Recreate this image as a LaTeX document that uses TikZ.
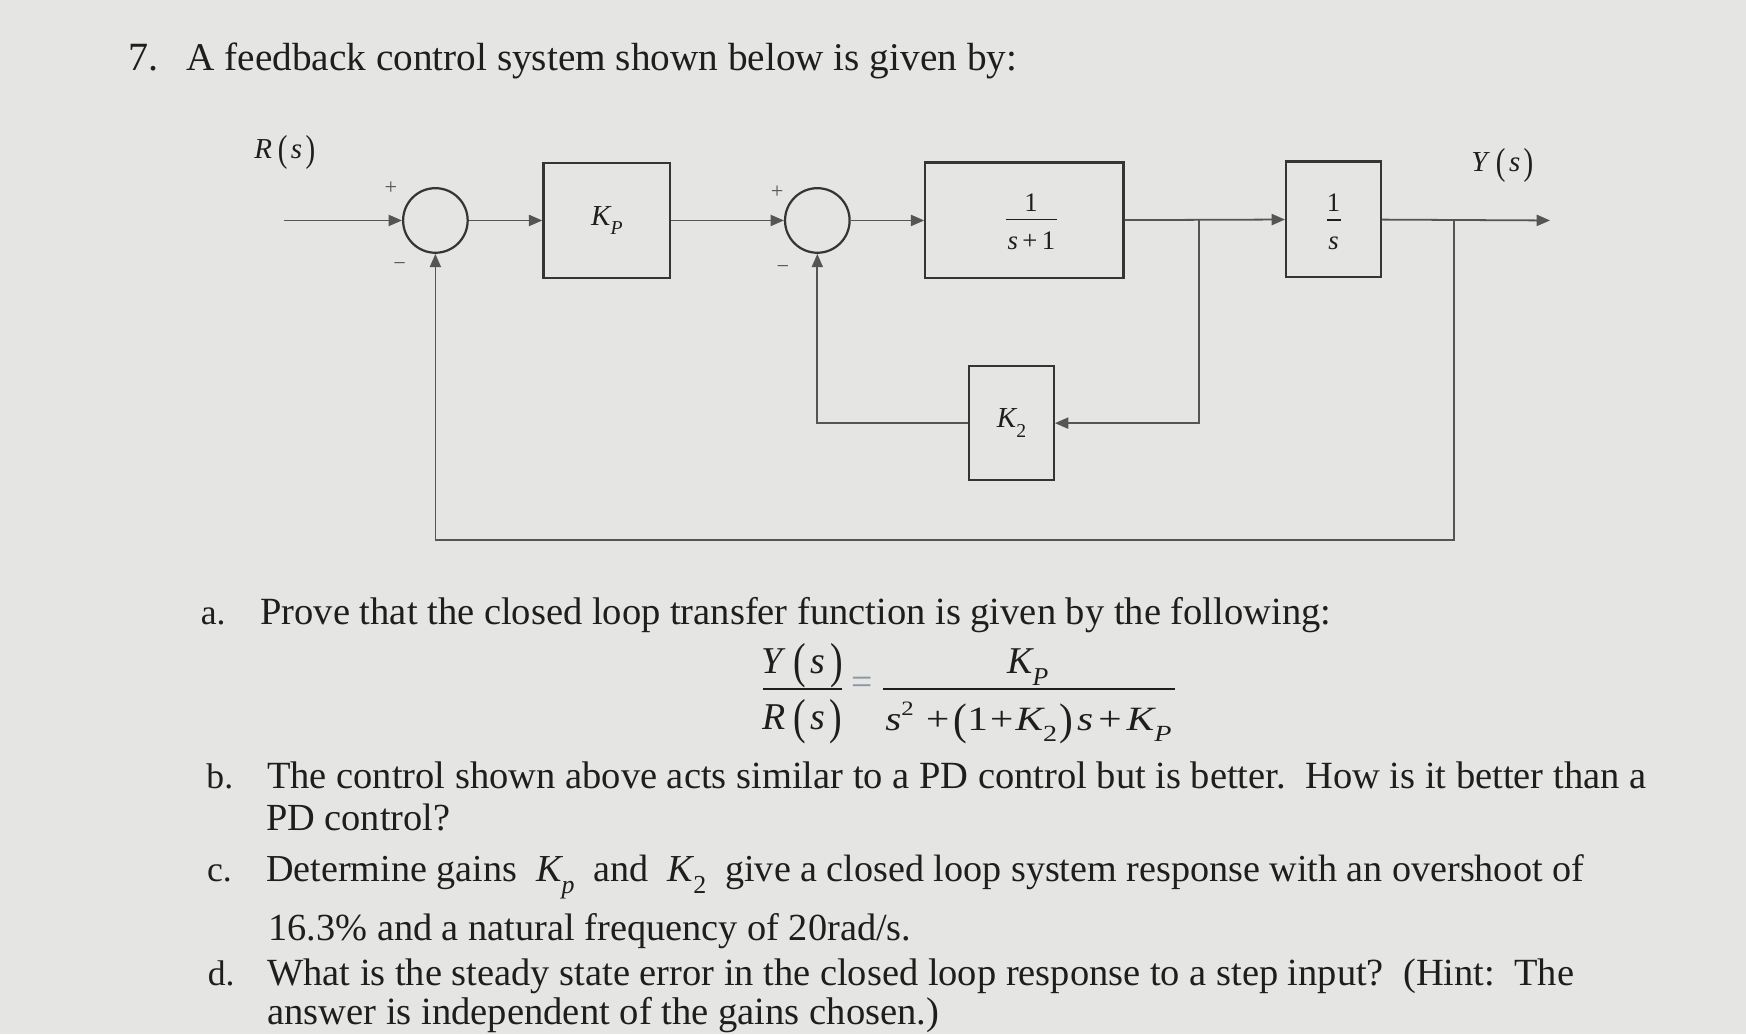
\documentclass[tikz,border=0pt]{standalone}
\usepackage{fontspec}
\setmainfont{Liberation Serif}
\usepackage{graphicx}
\usetikzlibrary{arrows.meta}
\definecolor{bg}{RGB}{229,229,227}
\definecolor{ink}{RGB}{30,30,30}
\definecolor{wire}{RGB}{85,85,85}
\definecolor{eqgray}{RGB}{140,150,165}
\newcommand{\tp}[1]{\raisebox{-0.12em}{\scalebox{1}[1.3]{#1}}}
\newcommand{\fs}[1]{\textit{#1}\hspace{0.2em}\tp{(}\hspace{0.12em}\textit{s}\hspace{0.12em}\tp{)}}
\newcommand{\sub}[1]{\kern-0.04em\raisebox{-0.32em}{\scalebox{0.68}{#1}}}
\newcommand{\KP}{\textit{K}\sub{\textit{P}}}
\newcommand{\Kp}{\textit{K}\sub{\textit{p}}}
\newcommand{\Kt}{\textit{K}\sub{2}}
\newcommand{\fitw}[2]{\resizebox{#1pt}{!}{#2}}
\begin{document}
\begin{tikzpicture}[x=0.5pt,y=-0.5pt,
  txt/.style={anchor=base west, inner sep=0pt, text=ink},
  ctr/.style={anchor=base, inner sep=0pt, text=ink},
  blk/.style={draw=ink!90, line width=1pt, inner sep=0pt, text=ink},
  sumj/.style={circle, draw=ink!90, line width=1pt, minimum size=29pt, inner sep=0pt},
  wire/.style={draw=wire, line width=0.8pt},
  arr/.style={wire, -{Triangle[length=6pt,width=5pt]}},
  sgn/.style={inner sep=0pt, text=wire, font=\fontsize{10}{10}\selectfont},
  dlab/.style={font=\fontsize{12}{12}\selectfont},
  klab/.style={font=\fontsize{13}{13}\selectfont},
  bar/.style={draw=ink, line width=0.6pt}
]
\path[use as bounding box, fill=bg] (0,0) rectangle (1568,929);

% ---------- title ----------
\node[txt, font=\fontsize{18}{18}\selectfont] (n7) at (115,63.5) {7.};
\node[txt] (title) at (167,63.5) {\fitw{373}{\fontsize{17}{17}\selectfont A feedback control system shown below is given by:}};

% ---------- diagram ----------
\node[txt, font=\fontsize{13}{13}\selectfont] (R) at (228,142) {\fs{R}};
\node[txt, font=\fontsize{13}{13}\selectfont] (Y) at (1321,154) {\fs{Y}};

\node[sumj] (sum1) at (391,198) {};
\node[sumj] (sum2) at (734,198) {};
\node[blk, minimum width=57pt, minimum height=51.5pt, klab] (kp) at (545,198) {\KP};
\node[blk, minimum width=89pt, minimum height=52pt] (g1) at (920,198) {};
\node[blk, minimum width=42.5pt, minimum height=52pt] (g2) at (1197.5,197) {};
\node[blk, minimum width=38pt, minimum height=51pt, klab] (k2) at (908.4,380) {\Kt};

\node[ctr, dlab] (g1n) at (926,189.5) {1};
\node[ctr, dlab] (g1d) at (926.3,224.5) {\textit{s}\,+\,1};
\draw[bar, line width=0.6pt] (903.6,197) -- (948.9,197);
\node[ctr, dlab] (g2n) at (1197.6,189.5) {1};
\node[ctr, dlab] (g2d) at (1197.6,224.5) {\textit{s}};
\draw[bar, line width=0.6pt] (1191.5,197.5) -- (1204,197.5);

\node[sgn] (p1) at (351,169) {+};
\node[sgn] (m1) at (359,239) {\char"2212};
\node[sgn] (p2) at (698,173) {+};
\node[sgn] (m2) at (703,242) {\char"2212};

\coordinate (in) at (255,198);
\coordinate (b1) at (1077,198);
\coordinate (b2) at (1306,198);
\coordinate (out) at (1392,198);
\coordinate (bot) at (1306,485);

\draw[arr] (in) -- (sum1);
\draw[arr] (sum1) -- (kp);
\draw[arr] (kp) -- (sum2);
\draw[arr] (sum2) -- (g1);
\draw[arr] (g1) -- (g2);
\draw[arr] (g2) -- (out);
\draw[arr] (b1) |- (k2);
\draw[arr] (k2) -| (sum2);
\draw[arr] (b2) -- (bot) -| (sum1);

% ---------- questions ----------
\node[txt, font=\fontsize{16}{16}\selectfont] (la) at (180,560.4) {a.};
\node[txt] (ta) at (233.5,560.4) {\fitw{480.75}{\fontsize{16}{16}\selectfont Prove that the closed loop transfer function is given by the following:}};

% equation
\begin{scope}[font=\fontsize{17}{17}\selectfont]
\node[ctr] (eqY) at (720.4,604.5) {\fs{Y}};
\node[ctr] (eqR) at (720.4,655) {\fs{R}};
\draw[bar, line width=0.9pt] (684.8,618.5) -- (756,618.5);
\node[inner sep=0pt, text=eqgray] (eqeq) at (774,616) {=};
\node[ctr] (eqK) at (923,605) {\KP};
\node[ctr] (eqD) at (923.5,656) {\resizebox*{128.5pt}{19pt}{\textit{s}\raisebox{0.45em}{\scalebox{0.6}{2}}\hspace{0.3em}+\hspace{0.1em}\tp{(}1\hspace{0.05em}+\hspace{0.05em}\Kt\hspace{0.05em}\tp{)}\hspace{0.1em}\textit{s}\hspace{0.12em}+\hspace{0.12em}\KP}};
\draw[bar, line width=0.9pt] (793,618.5) -- (1055.6,618.5);
\end{scope}

\node[txt, font=\fontsize{16}{16}\selectfont] (lb) at (185,707.7) {b.};
\node[txt] (tb) at (239.5,707.7) {\fitw{619.25}{\fontsize{16}{16}\selectfont The control shown above acts similar to a PD control but is better.\ \ How is it better than a}};
\node[txt] (tb2) at (238.6,745.4) {\fitw{82.7}{\fontsize{16}{16}\selectfont PD control?}};

\node[txt, font=\fontsize{16}{16}\selectfont] (lc) at (185.6,791.8) {c.};
\node[txt] (tc) at (238.6,791.8) {\fitw{591.7}{\fontsize{16}{16}\selectfont Determine gains\ \ \Kp\ \ and\ \ \Kt\ \ give a closed loop system response with an overshoot of}};
\node[txt] (tc2) at (240.7,844.2) {\fitw{288.65}{\fontsize{16}{16}\selectfont 16.3\% and a natural frequency of 20rad/s.}};

\node[txt, font=\fontsize{16}{16}\selectfont] (ld) at (186.2,884.6) {d.};
\node[txt] (td) at (239.5,884.6) {\fitw{586.75}{\fontsize{16}{16}\selectfont What is the steady state error in the closed loop response to a step input?\ \ (Hint:\ \ The}};
\node[txt] (td2) at (239.5,920.5) {\fitw{301.75}{\fontsize{16}{16}\selectfont answer is independent of the gains chosen.)}};
\end{tikzpicture}
\end{document}
